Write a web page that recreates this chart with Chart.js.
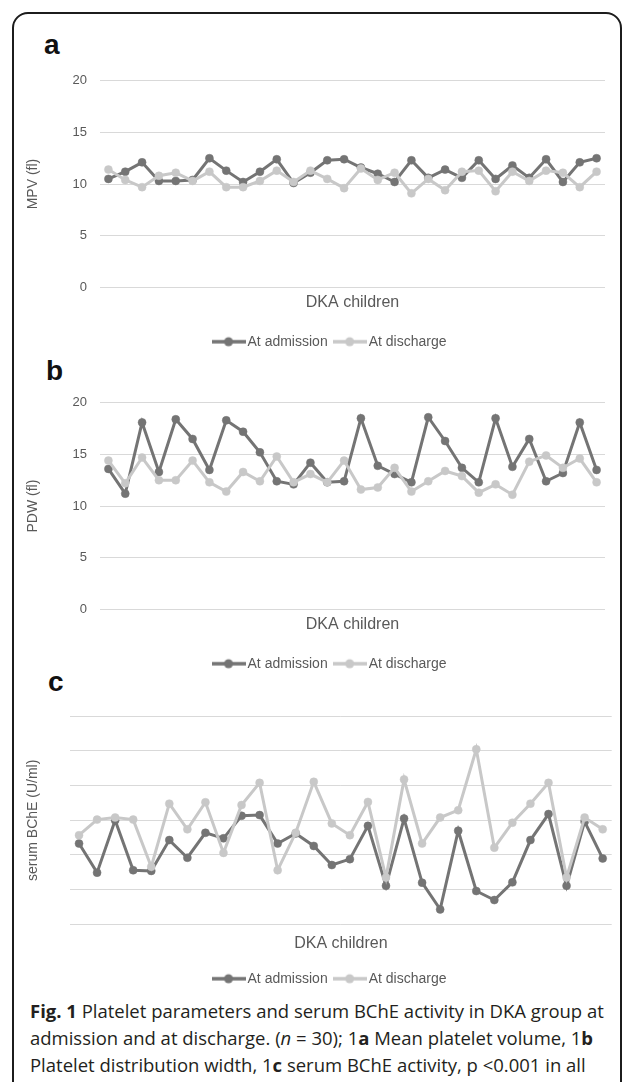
<!DOCTYPE html>
<html>
<head>
<meta charset="utf-8">
<script src="https://cdn.jsdelivr.net/npm/chart.js@4.4.0/dist/chart.umd.min.js"></script>
<style>
html,body{margin:0;padding:0;background:#fff;width:633px;height:1082px;overflow:hidden;}
#frame{position:absolute;left:12px;top:12px;width:610px;height:1100px;border:2px solid #1c1c1c;border-radius:16px;box-sizing:border-box;}
.lbl{position:absolute;font-family:"Liberation Sans",Arial,sans-serif;font-weight:bold;font-size:28px;color:#111;line-height:28px;}
.box{position:absolute;left:12px;width:606px;}
#cap{position:absolute;left:30px;top:997px;font-family:"Open Sans",sans-serif;font-size:17px;color:#231f20;line-height:27px;white-space:nowrap;}
#cap div{white-space:nowrap;}
</style>
</head>
<body>
<div id="frame"></div>
<div class="lbl" style="left:44px;top:31px;">a</div>
<div class="lbl" style="left:46px;top:357px;">b</div>
<div class="lbl" style="left:48px;top:668px;">c</div>
<div class="box" style="top:60px;height:299px;"><canvas id="chartA"></canvas></div>
<div class="box" style="top:381.7px;height:299px;"><canvas id="chartB"></canvas></div>
<div class="box" style="top:696.7px;height:299px;"><canvas id="chartC"></canvas></div>
<div id="cap">
<div id="cap1"><b>Fig. 1</b> Platelet parameters and serum BChE activity in DKA group at</div>
<div>admission and at discharge. (<i>n</i> = 30); 1<b>a</b> Mean platelet volume, 1<b>b</b></div>
<div>Platelet distribution width, 1<b>c</b> serum BChE activity, p &lt;0.001 in all</div>
</div>
<script>
// ---------- data ----------
const categories = ['1','2','3','4','5','6','7','8','9','10','11','12','13','14','15','16','17','18','19','20','21','22','23','24','25','26','27','28','29','30'];
const seriesNames = ['At admission', 'At discharge'];
const xTitle = 'DKA children';

const mpvAdmission = [10.5,11.2,12.1,10.3,10.3,10.4,12.5,11.3,10.2,11.2,12.4,10.1,11.1,12.3,12.4,11.6,11.0,10.2,12.3,10.6,11.4,10.6,12.3,10.5,11.8,10.6,12.4,10.2,12.1,12.5];
const mpvDischarge = [11.4,10.4,9.7,10.8,11.1,10.3,11.2,9.7,9.7,10.3,11.3,10.2,11.3,10.5,9.6,11.5,10.4,11.1,9.1,10.5,9.4,11.2,11.3,9.3,11.2,10.3,11.3,11.1,9.7,11.2];

const pdwAdmission = [13.6,11.2,18.1,13.3,18.4,16.5,13.5,18.3,17.2,15.2,12.4,12.1,14.2,12.3,12.4,18.5,13.9,13.1,12.3,18.6,16.3,13.7,12.3,18.5,13.8,16.5,12.4,13.2,18.1,13.5];
const pdwDischarge = [14.4,12.2,14.7,12.5,12.5,14.4,12.3,11.4,13.3,12.4,14.8,12.3,13.1,12.3,14.4,11.6,11.8,13.7,11.4,12.4,13.4,12.9,11.3,12.1,11.1,14.3,14.9,13.7,14.6,12.3];

const bcheAdmission = [2330,1490,3000,1560,1540,2430,1920,2640,2480,3130,3150,2330,2620,2260,1710,1880,2840,1110,3050,1200,430,2700,960,700,1210,2430,3180,1110,2960,1900];
const bcheDischarge = [2570,3020,3080,3020,1660,3480,2740,3520,2060,3440,4080,1560,2640,4110,2910,2570,3530,1350,4180,2330,3080,3290,5050,2210,2930,3480,4080,1350,3080,2740];

const plateletTicks = [0, 5, 10, 15, 20];
const bcheTicks = [0, 1000, 2000, 3000, 4000, 5000, 6000];

// ---------- styles ----------
const DARK = '#747474';
const LIGHT = '#c8c8c8';
const TEXT = '#595959';
const GRID = '#d9d9d9';
const FONT = '"Liberation Sans", Arial, sans-serif';

function legendSymbol(color) {
  const c = document.createElement('canvas');
  c.width = 34; c.height = 12;
  const g = c.getContext('2d');
  g.strokeStyle = color; g.lineWidth = 3.5;
  g.beginPath(); g.moveTo(0, 6); g.lineTo(34, 6); g.stroke();
  g.fillStyle = color;
  g.beginPath(); g.arc(17, 6, 4.5, 0, Math.PI * 2); g.fill();
  return c;
}
const symbols = [legendSymbol(DARK), legendSymbol(LIGHT)];

// legend is centred on the figure (not on the plot area), as in the original
const centerLegend = {
  id: 'centerLegend',
  afterLayout(chart) {
    if (chart.legend) {
      const cx = 319.5, half = 250;
      chart.legend.left = cx - half;
      chart.legend.right = cx + half;
    }
  }
};

function makeChart(id, admission, discharge, yTitle, ticks, opts) {
  const ctx = document.getElementById(id);
  return new Chart(ctx, {
    type: 'line',
    data: {
      labels: categories,
      datasets: [
        {label: seriesNames[0], data: admission, borderColor: DARK, backgroundColor: DARK,
         pointBackgroundColor: DARK, pointBorderColor: DARK, borderWidth: 3, pointRadius: 4,
         pointBorderWidth: 0.5, tension: 0, order: 1},
        {label: seriesNames[1], data: discharge, borderColor: LIGHT, backgroundColor: LIGHT,
         pointBackgroundColor: LIGHT, pointBorderColor: LIGHT, borderWidth: 3, pointRadius: 4,
         pointBorderWidth: 0.5, tension: 0, order: 0}
      ]
    },
    options: {
      responsive: true,
      maintainAspectRatio: false,
      animation: false,
      events: [],
      layout: {padding: {left: 9, right: opts.padR, top: 19.3, bottom: 0.3}},
      scales: {
        x: {
          offset: true,
          grid: {display: false, drawTicks: false},
          border: {display: false},
          ticks: {display: false},
          title: {display: true, text: xTitle, color: TEXT,
                  font: {family: FONT, size: 16},
                  padding: {top: opts.tTop, bottom: opts.tBottom}}
        },
        y: {
          min: ticks[0], max: ticks[ticks.length - 1],
          afterBuildTicks(scale) { scale.ticks = ticks.map(v => ({value: v})); },
          afterFit(scale) { scale.width = opts.yWidth; },
          grid: {color: GRID, lineWidth: 1, drawTicks: false},
          border: {display: false},
          ticks: {display: opts.showTicks, color: TEXT, padding: 13,
                  font: {family: FONT, size: 13}},
          title: {display: true, text: yTitle, color: TEXT,
                  font: {family: FONT, size: 14}, padding: {top: 4, bottom: 4}}
        }
      },
      plugins: {
        tooltip: {enabled: false},
        legend: {
          position: 'bottom',
          labels: {
            usePointStyle: true,
            pointStyleWidth: 24,
            padding: 10,
            color: TEXT,
            font: {family: FONT, size: 14},
            generateLabels(chart) {
              return chart.data.datasets.map((ds, i) => ({
                text: ds.label, fillStyle: ds.borderColor, strokeStyle: ds.borderColor,
                lineWidth: 0, pointStyle: symbols[i], hidden: false, datasetIndex: i,
                fontColor: TEXT
              }));
            }
          }
        }
      }
    },
    plugins: [centerLegend]
  });
}

makeChart('chartA', mpvAdmission, mpvDischarge, 'MPV (fl)', plateletTicks,
  {padR: 13, yWidth: 79, showTicks: true, tTop: 5.5, tBottom: 12.7});
makeChart('chartB', pdwAdmission, pdwDischarge, 'PDW (fl)', plateletTicks,
  {padR: 13, yWidth: 79, showTicks: true, tTop: 5.5, tBottom: 12.7});
makeChart('chartC', bcheAdmission, bcheDischarge, 'serum BChE (U/ml)', bcheTicks,
  {padR: 6.3, yWidth: 49, showTicks: false, tTop: 10, tBottom: 8.2});

// fit caption first line to the reference width
(function () {
  const line = document.getElementById('cap1');
  const cap = document.getElementById('cap');
  const span = document.createElement('span');
  span.innerHTML = line.innerHTML;
  line.innerHTML = '';
  line.appendChild(span);
  const w = span.getBoundingClientRect().width;
  const target = 574;
  cap.style.fontSize = (17 * target / w).toFixed(2) + 'px';
})();
</script>
</body>
</html>
